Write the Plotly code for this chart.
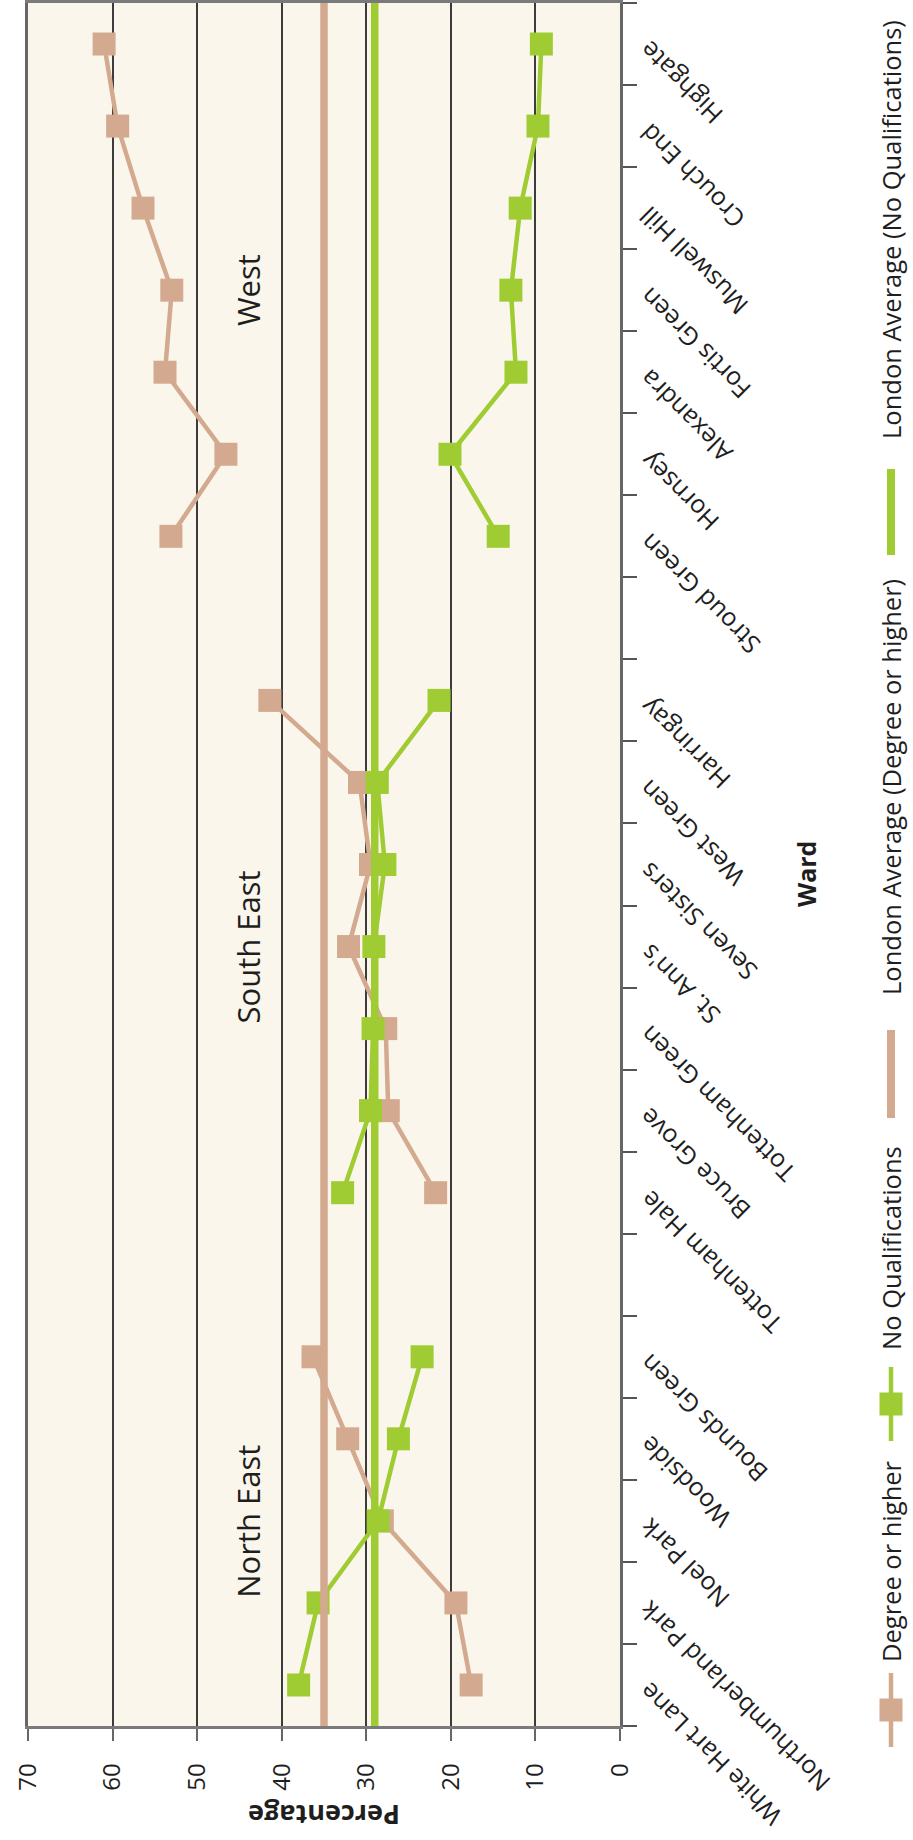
import plotly.graph_objects as go

# Wards from bottom to top of the category axis; the two "gap" rows separate the regions
wards = [
    "White Hart Lane", "Northumberland Park", "Noel Park", "Woodside", "Bounds Green",
    "gap-1",
    "Tottenham Hale", "Bruce Grove", "Tottenham Green", "St. Ann's", "Seven Sisters",
    "West Green", "Harringay",
    "gap-2",
    "Stroud Green", "Hornsey", "Alexandra", "Fortis Green", "Muswell Hill", "Crouch End",
    "Highgate",
]
gap_rows = ["gap-1", "gap-2"]

# Percentage of residents, per ward
degree_or_higher = [17.6, 19.4, 28.1, 32.2, 36.3, None,
                    21.8, 27.4, 27.7, 32.1, 29.5, 30.8, 41.4, None,
                    53.1, 46.6, 53.8, 53.0, 56.4, 59.4, 61.0]
no_qualifications = [38.0, 35.7, 28.6, 26.2, 23.4, None,
                     32.8, 29.5, 29.2, 29.1, 27.8, 28.7, 21.4, None,
                     14.4, 20.1, 12.3, 12.9, 11.8, 9.7, 9.3]

london_avg_degree = 35.0
london_avg_no_qual = 29.0

pct_ticks = [0, 10, 20, 30, 40, 50, 60, 70]

regions = ["North East", "South East", "West"]
region_rows = ["Noel Park", "St. Ann's", "Fortis Green"]

legend_names = ["Degree or higher", "No Qualifications",
                "London Average (Degree or higher)", "London Average (No Qualifications)"]

TAN = "#D3AA8F"
GREEN = "#9FCC32"
FONT = "Open Sans"
TEXT = "#1e1e1e"

W, H = 913, 1840
PL, PR, PT, PB = 28, 620, 3, 1726


def fx(px):
    return (px - PL) / (PR - PL)


def fy(py):
    return (PB - py) / (PB - PT)


fig = go.Figure()

fig.add_trace(go.Scatter(
    x=degree_or_higher, y=wards, mode="lines+markers", name=legend_names[0],
    line=dict(color=TAN, width=4.5),
    marker=dict(symbol="square", size=23, color=TAN),
    connectgaps=False,
))
fig.add_trace(go.Scatter(
    x=no_qualifications, y=wards, mode="lines+markers", name=legend_names[1],
    line=dict(color=GREEN, width=4.5),
    marker=dict(symbol="square", size=23, color=GREEN),
    connectgaps=False,
))

# London averages as full-height reference lines
for val, col in [(london_avg_degree, TAN), (london_avg_no_qual, GREEN)]:
    fig.add_shape(type="line", xref="x", yref="paper", x0=val, x1=val, y0=0, y1=1,
                  line=dict(color=col, width=7.5), layer="above")

# Ward names, angled, at the right-hand axis
for w in wards:
    if w in gap_rows:
        continue
    fig.add_annotation(
        x=fx(629), xref="paper", y=w, yref="y", text=w, textangle=-135,
        xanchor="left", yanchor="top", yshift=12, showarrow=False,
        font=dict(family=FONT, size=25, color=TEXT),
    )

# Region labels inside the plot
for name, row in zip(regions, region_rows):
    fig.add_annotation(
        x=44, xref="x", y=row, yref="y", text=name, textangle=-90,
        xanchor="center", yanchor="middle",
        showarrow=False, font=dict(family=FONT, size=31, color=TEXT),
    )

# Axis titles
fig.add_annotation(x=fx(806), y=fy(874), xref="paper", yref="paper", text="<b>Ward</b>",
                   textangle=-90, xanchor="center", yanchor="middle", showarrow=False,
                   font=dict(family=FONT, size=25, color=TEXT))
fig.add_annotation(x=fx(324), y=fy(1816), xref="paper", yref="paper", text="<b>Percentage</b>",
                   textangle=180, xanchor="center", yanchor="middle", showarrow=False,
                   font=dict(family=FONT, size=27, color=TEXT))

# Legend, laid out vertically along the right edge
LX = 891
legend_text_mid = [1561, 1248, 787, 230]
for name, mid in zip(legend_names, legend_text_mid):
    fig.add_annotation(x=fx(LX), y=fy(mid), xref="paper", yref="paper", text=name,
                       textangle=-90, xanchor="center", yanchor="middle", showarrow=False,
                       font=dict(family=FONT, size=25.5, color=TEXT))

for col, (y0, y1) in [(TAN, (1673, 1747)), (GREEN, (1367, 1441))]:
    fig.add_shape(type="line", xref="paper", yref="paper", x0=fx(LX), x1=fx(LX),
                  y0=fy(y0), y1=fy(y1), line=dict(color=col, width=4.5))
    mid = (y0 + y1) / 2
    fig.add_shape(type="rect", xref="paper", yref="paper",
                  x0=fx(LX - 11.5), x1=fx(LX + 11.5), y0=fy(mid - 11.5), y1=fy(mid + 11.5),
                  line=dict(width=0), fillcolor=col)
for col, (y0, y1) in [(TAN, (1030, 1118)), (GREEN, (469, 555))]:
    fig.add_shape(type="line", xref="paper", yref="paper", x0=fx(LX), x1=fx(LX),
                  y0=fy(y0), y1=fy(y1), line=dict(color=col, width=8))

fig.update_layout(
    width=W, height=H,
    margin=dict(l=PL, r=W - PR, t=PT, b=H - PB, pad=0),
    paper_bgcolor="white", plot_bgcolor="#FAF6EC",
    showlegend=False,
    font=dict(family=FONT, color=TEXT),
    xaxis=dict(
        range=[70, 0], tickvals=pct_ticks, ticktext=[str(v) for v in pct_ticks],
        tickangle=-90, ticks="outside", ticklen=12, tickwidth=2, tickcolor="#666",
        showline=True, linecolor="#7a7a7a", linewidth=2.5, mirror=True,
        showgrid=True, gridcolor="#3c3c3c", gridwidth=1.6, zeroline=False,
        tickfont=dict(family=FONT, size=24, color=TEXT), ticklabelstandoff=13,
        automargin=False, fixedrange=True,
    ),
    yaxis=dict(
        type="category", categoryorder="array", categoryarray=wards,
        range=[-0.5, len(wards) - 0.5], side="right", showticklabels=False,
        ticks="outside", ticklen=14, tickwidth=2, tickcolor="#555", tickson="boundaries",
        showline=True, linecolor="#666", linewidth=2.5, mirror=True,
        showgrid=False, zeroline=False, automargin=False, fixedrange=True,
    ),
)

fig.write_html("out.html")
